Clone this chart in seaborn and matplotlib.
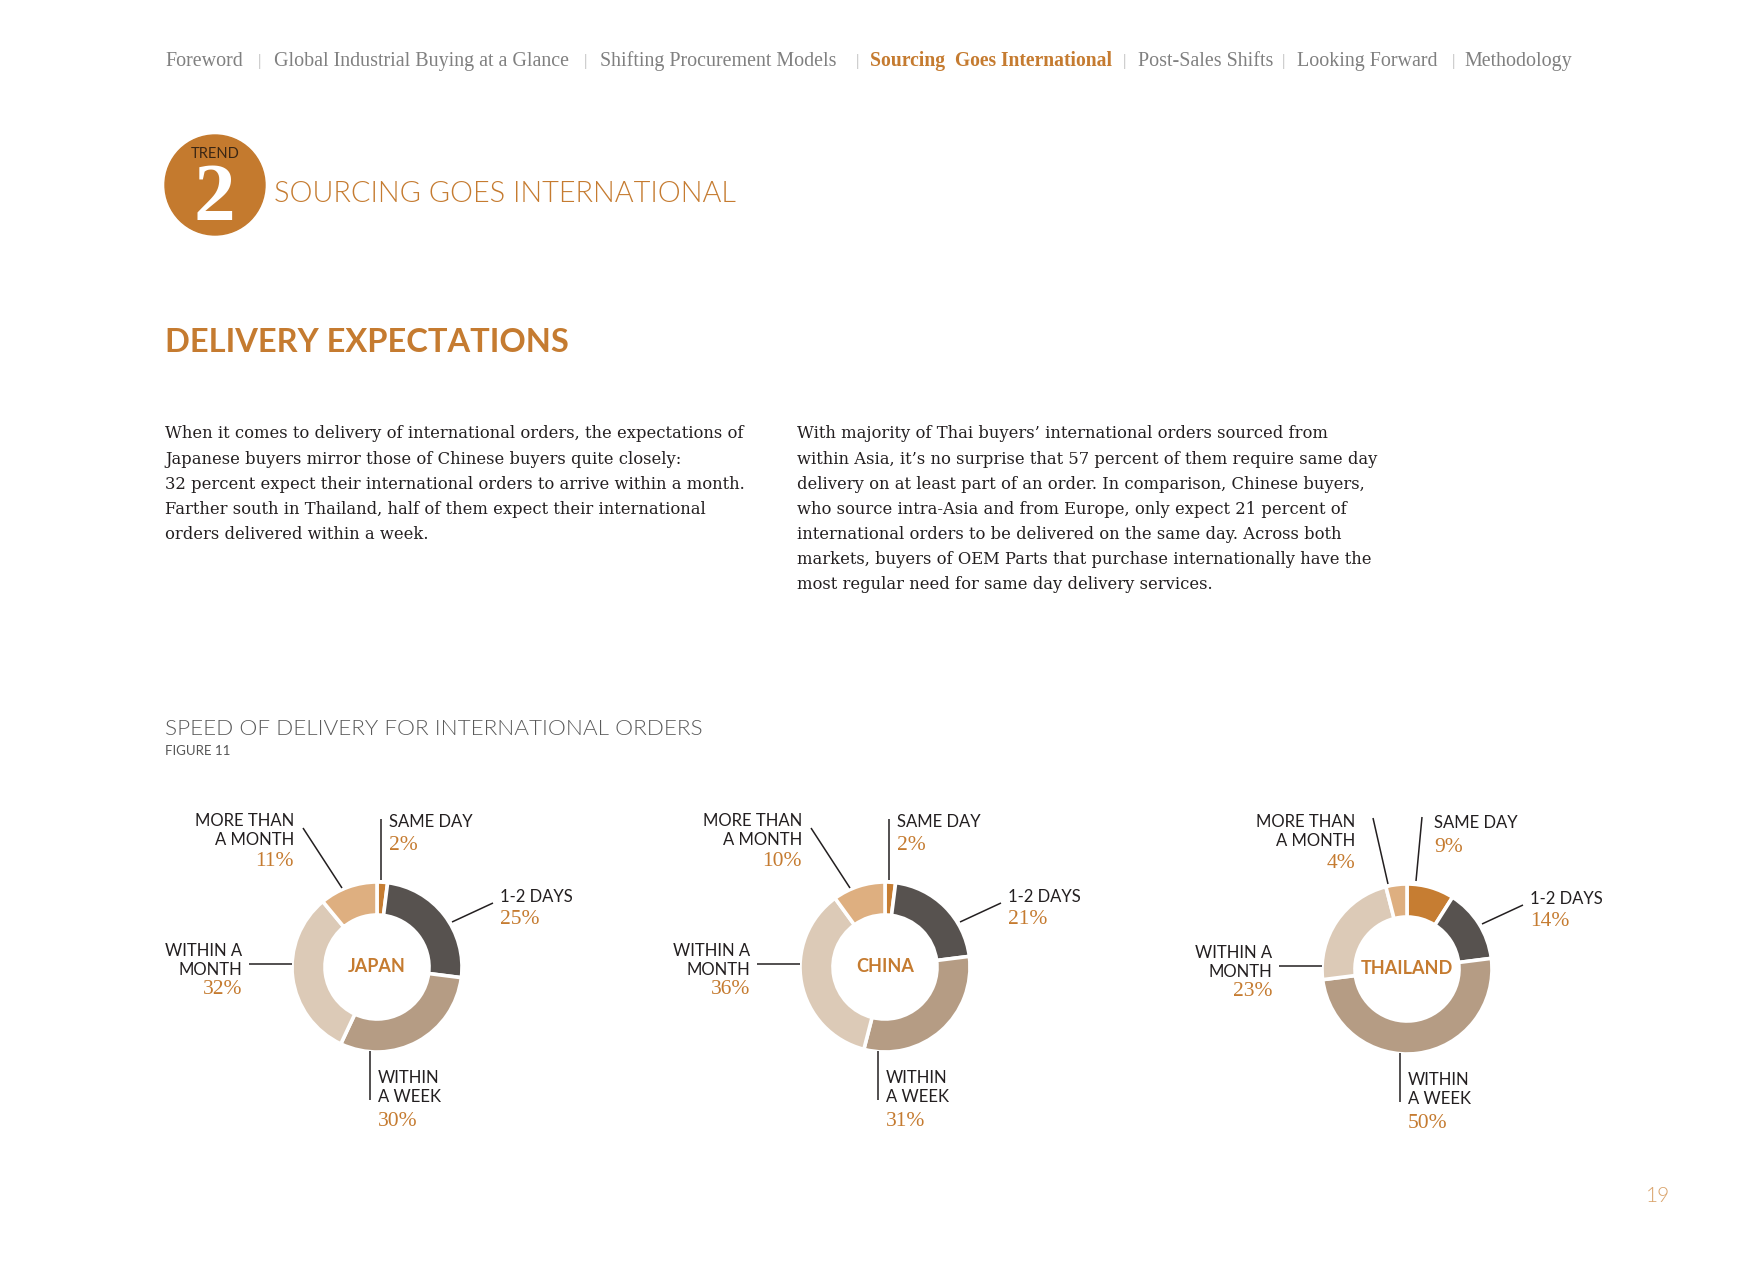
import matplotlib
matplotlib.use('Agg')
import matplotlib.pyplot as plt
import seaborn as sns

# page size in pixels (figure is drawn at dpi=100)
W, H = 1754, 1270

# ---- data -------------------------------------------------------------
categories = ['SAME DAY', '1-2 DAYS', 'WITHIN A WEEK', 'WITHIN A MONTH', 'MORE THAN A MONTH']
countries = ['JAPAN', 'CHINA', 'THAILAND']
japan = [2, 25, 30, 32, 11]
china = [2, 21, 31, 36, 10]
thailand = [9, 14, 50, 23, 4]

nav_items = ['Foreword', 'Global Industrial Buying at a Glance', 'Shifting Procurement Models',
             'Sourcing  Goes International', 'Post-Sales Shifts', 'Looking Forward', 'Methodology']
nav_active = 'Sourcing  Goes International'

para_left = [
    'When it comes to delivery of international orders, the expectations of',
    'Japanese buyers mirror those of Chinese buyers quite closely:',
    '32 percent expect their international orders to arrive within a month.',
    'Farther south in Thailand, half of them expect their international',
    'orders delivered within a week.',
]
para_right = [
    'With majority of Thai buyers\u2019 international orders sourced from',
    'within Asia, it\u2019s no surprise that 57 percent of them require same day',
    'delivery on at least part of an order. In comparison, Chinese buyers,',
    'who source intra-Asia and from Europe, only expect 21 percent of',
    'international orders to be delivered on the same day. Across both',
    'markets, buyers of OEM Parts that purchase internationally have the',
    'most regular need for same day delivery services.',
]

label_lines = {
    'SAME DAY': ['SAME DAY'],
    '1-2 DAYS': ['1-2 DAYS'],
    'WITHIN A WEEK': ['WITHIN', 'A WEEK'],
    'WITHIN A MONTH': ['WITHIN A', 'MONTH'],
    'MORE THAN A MONTH': ['MORE THAN', 'A MONTH'],
}

# ---- style ------------------------------------------------------------
sns.set_theme(style='white')
ORANGE = '#C57B30'
DARK = '#231F20'
GREY = '#808080'
wedge_colors = sns.color_palette(['#C67D32', '#57524F', '#B59C84', '#DCCAB7', '#DEAF80'])
SERIF = ['Liberation Serif', 'DejaVu Serif']
BODY = ['DejaVu Serif']
SANS = ['Lato', 'DejaVu Sans']

# donut geometry / positions (pixels, y measured from the top)
centers = {'JAPAN': (377, 967), 'CHINA': (885, 967), 'THAILAND': (1407, 969)}
R_OUT, RING = 85, 33

# label layout: ha, dx, first line dy, pct dy, leader start, leader end
base_layout = {
    'SAME DAY': ('left', 12, -145, -122, (4, -148), (4, -87)),
    '1-2 DAYS': ('left', 123, -70, -47, (116, -64), (75, -45)),
    'WITHIN A WEEK': ('left', 1, 111, 155, (-7, 133), (-7, 84)),
    'WITHIN A MONTH': ('right', -135, -16, 23, (-128, -3), (-85, -3)),
    'MORE THAN A MONTH': ('right', -83, -146, -105, (-74, -139), (-35, -79)),
}
thai_layout = dict(base_layout)
thai_layout['SAME DAY'] = ('left', 27, -146, -122, (15, -152), (9, -88))
thai_layout['MORE THAN A MONTH'] = ('right', -52, -147, -106, (-34, -151), (-19, -85))
layouts = {'JAPAN': base_layout, 'CHINA': base_layout, 'THAILAND': thai_layout}

fig = plt.figure(figsize=(W / 100, H / 100), dpi=100)
fig.patch.set_facecolor('white')
ax = fig.add_axes([0, 0, 1, 1])


def T(x, y, s, **kw):
    return ax.text(x, H - y, s, **kw)


# ---- navigation bar ---------------------------------------------------
nav_x = [165, 274, 600, 870, 1138, 1297, 1464]
sep_x = [259, 585, 857, 1124, 1283, 1453]
for x, item in zip(nav_x, nav_items):
    active = item == nav_active
    T(x, 66, item, family=SERIF, fontsize=14.1 if active else 14.4, va='baseline', ha='left',
      color=ORANGE if active else GREY, fontweight='bold' if active else 'normal')
for x in sep_x:
    T(x, 66, '|', family=SANS, fontsize=11, va='baseline', ha='center', color='#A0A0A0',
      fontweight=300)

# ---- trend badge and headings -----------------------------------------
ax.add_patch(plt.Circle((215, H - 185), 50, color='#C47A2E', zorder=2))
T(215, 154, 'TREND', family=SANS, fontsize=10.5, ha='center', va='center', color='#3A2614', zorder=3)
T(214, 200, '2', family=SERIF, fontsize=60, ha='center', va='center', color='white',
  fontweight='bold', zorder=3)
T(274, 194, 'SOURCING GOES INTERNATIONAL', family=SANS, fontsize=20.8, ha='left', va='center',
  color=ORANGE, fontweight=300)
T(165, 342, 'DELIVERY EXPECTATIONS', family=SANS, fontsize=23.5, ha='left', va='center',
  color=ORANGE, fontweight='bold')

for i, line in enumerate(para_left):
    T(165, 434 + i * 25.1, line, family=BODY, fontsize=11.75, ha='left', va='center', color=DARK)
for i, line in enumerate(para_right):
    T(797, 434 + i * 25.1, line, family=BODY, fontsize=11.75, ha='left', va='center', color=DARK)

T(165, 729, 'SPEED OF DELIVERY FOR INTERNATIONAL ORDERS', family=SANS, fontsize=16.2,
  ha='left', va='center', color='#5A5A5A', fontweight=300)
T(165, 751, 'FIGURE 11', family=SANS, fontsize=9.5, ha='left', va='center', color='#555555')

# ---- donuts -----------------------------------------------------------
for country, values in zip(countries, [japan, china, thailand]):
    cx, cy = centers[country]
    ax.pie(values, radius=R_OUT, center=(cx, H - cy), startangle=90, counterclock=False,
           colors=wedge_colors,
           wedgeprops=dict(width=RING, edgecolor='white', linewidth=2.6))
    T(cx, cy, country, family=SANS, fontsize=13, fontweight='bold', ha='center',
      va='center', color=ORANGE)
    for cat, v in zip(categories, values):
        ha, dx, dy, pdy, p1, p2 = layouts[country][cat]
        for j, line in enumerate(label_lines[cat]):
            T(cx + dx, cy + dy + j * 19, line, family=SANS, fontsize=12, ha=ha,
              va='center', color=DARK)
        T(cx + dx, cy + pdy, f'{v}%', family=SERIF, fontsize=15.5, ha=ha, va='center',
          color=ORANGE)
        ax.plot([cx + p1[0], cx + p2[0]], [H - cy - p1[1], H - cy - p2[1]],
                color=DARK, lw=1.1, solid_capstyle='butt')

# page number
T(1658, 1196, '19', family=SANS, fontsize=15, ha='center', va='center', color='#D9A36B',
  fontweight=300)

ax.set_xlim(0, W)
ax.set_ylim(0, H)
ax.set_aspect('equal')
ax.axis('off')

fig.savefig('out.png', dpi=100, facecolor='white')
